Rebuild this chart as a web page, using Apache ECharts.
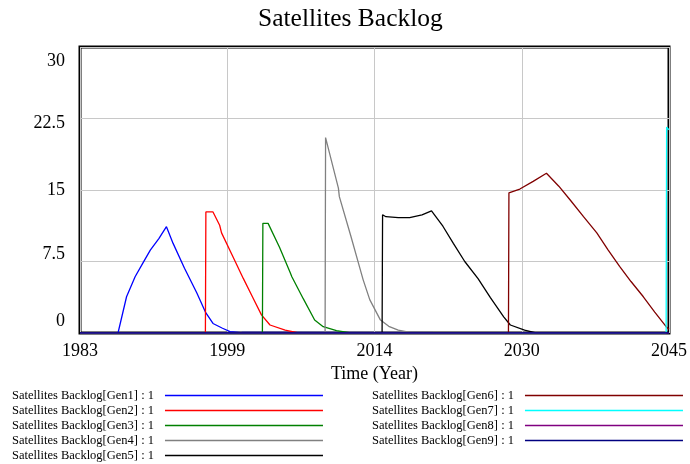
<!DOCTYPE html>
<html>
<head>
<meta charset="utf-8">
<script src="https://cdn.jsdelivr.net/npm/echarts@6/dist/echarts.min.js"></script>
<style>html,body{margin:0;padding:0;background:#fff}#c{width:690px;height:464px}</style>
</head>
<body>
<div id="c"></div>
<script>
// ---- data (time in years, value) ----
const seriesNames = ['Satellites Backlog[Gen1] : 1','Satellites Backlog[Gen2] : 1','Satellites Backlog[Gen3] : 1','Satellites Backlog[Gen4] : 1','Satellites Backlog[Gen5] : 1','Satellites Backlog[Gen6] : 1','Satellites Backlog[Gen7] : 1','Satellites Backlog[Gen8] : 1','Satellites Backlog[Gen9] : 1'];
const seriesColors = ['#0000ff','#ff0000','#008000','#808080','#000000','#800000','#00ffff','#800080','#000080'];
const xStart = 1983, xEnd = 2045;
const yTicks = [0, 7.5, 15, 22.5, 30];

const gen1T = [1983, 1987.0, 1987.9, 1988.8, 1989.6, 1990.4, 1991.3, 1992.1, 1992.8, 1994.0, 1995.3, 1996.2, 1997.0, 1998.0, 1998.8, 2000.0, 2045];
const gen1V = [0, 0, 3.8, 5.9, 7.3, 8.7, 9.9, 11.15, 9.4, 6.8, 4.2, 2.2, 1.0, 0.5, 0.15, 0.05, 0];
const gen2T = [1983, 1996.2, 1996.25, 1997.0, 1997.7, 1997.9, 1999.0, 2000.2, 2001.2, 2002.1, 2003.0, 2004.6, 2006.0, 2045];
const gen2V = [0, 0, 12.7, 12.7, 11.3, 10.5, 8.2, 5.7, 3.7, 1.9, 0.84, 0.3, 0, 0];
const gen3T = [1983, 2002.2, 2002.25, 2002.8, 2004.0, 2005.1, 2005.3, 2006.5, 2007.7, 2008.6, 2010.0, 2011.5, 2045];
const gen3V = [0, 0, 11.5, 11.5, 9.0, 6.4, 5.9, 3.6, 1.36, 0.66, 0.25, 0, 0];
const gen4T = [1983, 2008.8, 2008.85, 2010.2, 2010.3, 2011.5, 2012.6, 2012.8, 2013.5, 2014.6, 2015.5, 2016.5, 2018.0, 2045];
const gen4V = [0, 0, 20.5, 15.2, 14.3, 10.2, 6.3, 5.6, 3.5, 1.4, 0.7, 0.3, 0, 0];
const gen5T = [1983, 2014.8, 2014.85, 2015.2, 2016.5, 2017.7, 2019.0, 2020.0, 2021.2, 2022.3, 2023.5, 2024.9, 2026.2, 2027.6, 2028.3, 2029.8, 2031.0, 2045];
const gen5V = [0, 0, 12.4, 12.2, 12.1, 12.1, 12.4, 12.8, 11.2, 9.4, 7.5, 5.7, 3.7, 1.7, 0.84, 0.3, 0, 0];
const gen6T = [1983, 2028.1, 2028.15, 2029.3, 2030.7, 2032.1, 2033.4, 2034.6, 2036.0, 2037.4, 2038.6, 2039.8, 2041.0, 2042.3, 2043.5, 2044.7, 2045];
const gen6V = [0, 0, 14.7, 15.1, 15.9, 16.75, 15.4, 13.95, 12.2, 10.5, 8.7, 7.0, 5.4, 3.8, 2.2, 0.66, 0.4];
const gen7T = [1983, 2044.7, 2044.75, 2045];
const gen7V = [0, 0, 21.6, 21.3];
const gen8T = [1983, 2045];
const gen8V = [0, 0];
const gen9T = [1983, 2045];
const gen9V = [0, 0];

const allT = [gen1T, gen2T, gen3T, gen4T, gen5T, gen6T, gen7T, gen8T, gen9T];
const allV = [gen1V, gen2V, gen3V, gen4V, gen5V, gen6V, gen7V, gen8V, gen9V];

const FONT = "'Liberation Serif','Times New Roman',serif";

const series = seriesNames.map((n, i) => ({
  name: n,
  type: 'line',
  showSymbol: false,
  symbol: 'none',
  color: seriesColors[i],
  lineStyle: { width: 1.3, color: seriesColors[i] },
  data: allT[i].map((t, k) => [t - xStart, allV[i][k]]),
  animation: false
}));

const yRich = {
  y30: { padding: [28, 0, 0, 0], fontFamily: FONT, fontSize: 18, color: '#000' },
  y225: { padding: [10, 0, 0, 0], fontFamily: FONT, fontSize: 18, color: '#000' },
  y15: { fontFamily: FONT, fontSize: 18, color: '#000' },
  y75: { padding: [0, 0, 15, 0], fontFamily: FONT, fontSize: 18, color: '#000' },
  y0: { padding: [0, 0, 24, 0], fontFamily: FONT, fontSize: 18, color: '#000' }
};
const yKey = { 30: 'y30', 22.5: 'y225', 15: 'y15', 7.5: 'y75', 0: 'y0' };

const legendCommon = {
  orient: 'vertical',
  align: 'right',
  icon: 'rect',
  itemWidth: 158,
  itemHeight: 1.6,
  itemGap: 2,
  top: 389,
  height: 100,
  padding: 0,
  selectedMode: false,
  textStyle: { fontFamily: FONT, fontSize: 12.5, color: '#000', padding: [0, 6, 0, 0] }
};

const option = {
  backgroundColor: '#fff',
  animation: false,
  title: {
    text: 'Satellites Backlog',
    left: 258,
    top: 6,
    padding: 0,
    textStyle: { fontFamily: FONT, fontSize: 25.5, fontWeight: 'normal', color: '#000' }
  },
  legend: [
    Object.assign({}, legendCommon, { left: 12, data: seriesNames.slice(0, 5) }),
    Object.assign({}, legendCommon, { left: 372, data: seriesNames.slice(5) })
  ],
  grid: { left: 80, right: 21, top: 47, bottom: 131, show: true, borderColor: '#000', borderWidth: 3, backgroundColor: 'transparent' },
  xAxis: {
    type: 'value',
    min: 0,
    max: xEnd - xStart,
    interval: (xEnd - xStart) / 4,
    name: 'Time (Year)',
    nameLocation: 'middle',
    nameGap: 31,
    nameTextStyle: { fontFamily: FONT, fontSize: 18, color: '#000' },
    axisLine: { show: false },
    axisTick: { show: false },
    axisLabel: { margin: 9, fontFamily: FONT, fontSize: 18, color: '#000', formatter: v => String(Math.round(v + xStart)) },
    splitLine: { show: true, lineStyle: { color: '#c8c8c8', width: 1 } }
  },
  yAxis: {
    type: 'value',
    min: yTicks[0],
    max: yTicks[yTicks.length - 1],
    interval: 7.5,
    axisLine: { show: false },
    axisTick: { show: false },
    axisLabel: {
      margin: 15,
      formatter: v => '{' + yKey[v] + '|' + v + '}',
      rich: yRich
    },
    splitLine: { show: true, lineStyle: { color: '#c8c8c8', width: 1 } }
  },
  series: series
};

const chart = echarts.init(document.getElementById('c'), null, { renderer: 'canvas' });
chart.setOption(option);
</script>
</body>
</html>
